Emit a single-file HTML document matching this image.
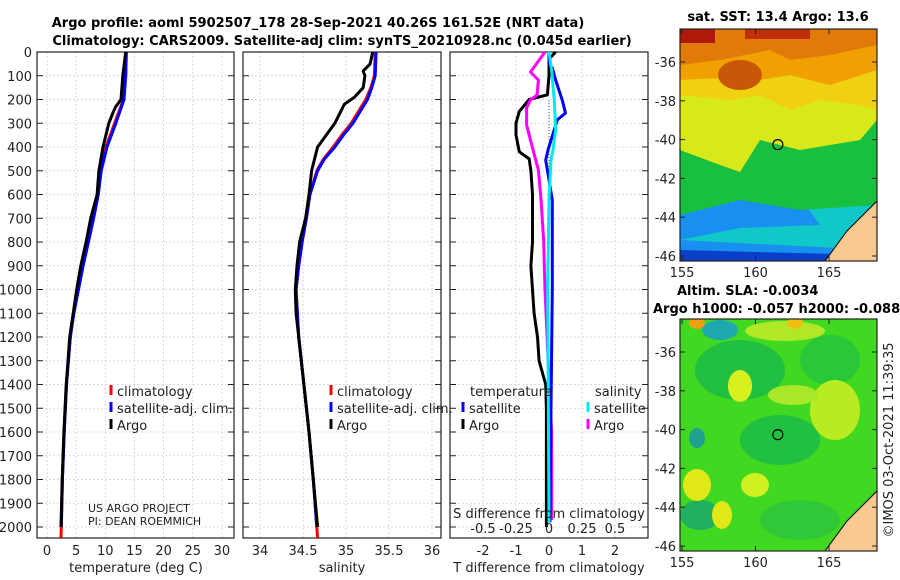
<!DOCTYPE html>
<html><head><meta charset="utf-8"><style>
body{margin:0;background:#fff;}
svg{display:block;font-family:"DejaVu Sans","Liberation Sans",sans-serif;}
.t{font-size:13px;fill:#222;}
.b{font-weight:bold;fill:#000;font-size:13px;}
</style></head><body>
<svg id="fig" width="900" height="580" viewBox="0 0 900 580">
<text class="b" x="318" y="27" text-anchor="middle">Argo profile: aoml 5902507_178 28-Sep-2021 40.26S 161.52E (NRT data)</text>
<text class="b" x="342" y="45" text-anchor="middle">Climatology: CARS2009. Satellite-adj clim: synTS_20210928.nc (0.045d earlier)</text>
<g id="p1"></g>
<g id="p2"></g>
<g id="p3"></g>
<g id="m1"></g>
<g id="m2"></g>
<text class="b" x="778" y="21" text-anchor="middle">sat. SST: 13.4 Argo: 13.6</text>
<text class="b" x="677" y="295">Altim. SLA: -0.0034</text>
<text class="b" x="653" y="313">Argo h1000: -0.057 h2000: -0.088</text>
<text class="t" transform="translate(893,440) rotate(-90)" text-anchor="middle">©IMOS 03-Oct-2021 11:39:35</text>
</svg>
<script>
// ---- data ----
const depthTicks=[0,100,200,300,400,500,600,700,800,900,1000,1100,1200,1300,1400,1500,1600,1700,1800,1900,2000];
const tTicks=[0,5,10,15,20,25,30];
const sTicks=[34,34.5,35,35.5,36];
const dtTicks=[-2,-1,0,1,2];
const dsTicks=[-0.5,-0.25,0,0.25,0.5];
const dsTickLabels=["-0.5","-0.25","0","0.25","0.5"];
const argoDepth=[0,100,200,230,250,300,400,500,600,700,800,900,1000,1100,1200,1300,1400,1600,1800,2000];
const argoTemp=[13.5,13.0,12.7,11.8,11.4,10.6,9.6,8.9,8.6,7.5,6.7,5.8,5.1,4.5,3.9,3.6,3.3,2.9,2.6,2.4];
const climDepth=[0,100,200,300,400,500,600,700,800,900,1000,1100,1200,1400,1600,1800,2000,2045];
const climTemp=[13.6,13.5,13.1,11.6,10.1,9.2,8.7,7.9,7.0,6.1,5.3,4.6,4.0,3.35,2.95,2.65,2.45,2.4];
const satTemp=[13.6,13.5,13.2,11.8,10.3,9.3,8.8,8.0,7.1,6.2,5.4,4.6,4.0,3.35,2.95,2.65,2.45,2.4];
const sDepth=[0,50,80,100,150,190,220,300,400,500,600,700,800,900,1000,1100,1200,1300,1400,1600,1800,2000];
const argoSal=[35.31,35.28,35.2,35.22,35.2,35.1,34.98,34.87,34.67,34.6,34.57,34.53,34.46,34.43,34.41,34.42,34.45,34.48,34.51,34.57,34.62,34.67];
const cDepth=[0,100,150,200,300,350,400,450,500,600,700,800,900,1000,1200,1400,1600,1800,2000,2045];
const climSal=[35.34,35.33,35.29,35.23,35.06,34.95,34.85,34.74,34.66,34.58,34.54,34.49,34.45,34.42,34.45,34.51,34.57,34.62,34.66,34.67];
const satSal=[35.35,35.34,35.3,35.25,35.08,34.97,34.87,34.75,34.67,34.58,34.54,34.49,34.45,34.42,34.45,34.51,34.57,34.62,34.66,34.67];
const dtArgoDepth=[0,30,100,180,200,250,300,350,420,450,500,600,800,900,1100,1200,1300,1400,1500,2000];
const dtArgo=[0.2,0,0,-0.05,-0.6,-0.9,-1.0,-1.0,-0.9,-0.6,-0.55,-0.5,-0.5,-0.55,-0.45,-0.35,-0.3,-0.1,-0.08,-0.08];
const dtSatDepth=[0,50,67,118,202,257,286,413,455,539,623,1000,1500,1980];
const dtSat=[0,0,0.1,0.2,0.4,0.5,0.25,-0.03,-0.1,0,0.1,0.1,0.06,0.03];
const dsArgoDepth=[0,84,118,181,202,236,307,371,497,623,800,1000,1380,1600,1970];
const dsArgo=[-0.03,-0.14,-0.08,-0.09,-0.14,-0.17,-0.17,-0.14,-0.08,-0.06,-0.04,-0.03,0,0.02,0.02];
const dsSatDepth=[0,76,202,328,413,455,623,1000,1980];
const dsSat=[0,0.02,0.04,0.05,0.03,0.015,0,-0.01,0];
const latTicks=[-36,-38,-40,-42,-44,-46];
const lonTicks=[155,160,165];
const floatLat=-40.26, floatLon=161.52;

const NS="http://www.w3.org/2000/svg";
function mk(p,tag,at){const e=document.createElementNS(NS,tag);for(const k in at)e.setAttribute(k,at[k]);p.appendChild(e);return e;}
const Y=d=>52+d*0.2375;
const PB=538;
function frame(g,x0,x1,xs,xt,gridX){
  depthTicks.forEach(d=>{const l=mk(g,'line',{x1:x0,x2:x1,y1:Y(d),y2:Y(d),stroke:'#c8d0ee','stroke-dasharray':'2,2','stroke-width':0.8});
  
  mk(g,'line',{x1:x0,x2:x0+6,y1:Y(d),y2:Y(d),stroke:'#222'});mk(g,'line',{x1:x1-6,x2:x1,y1:Y(d),y2:Y(d),stroke:'#222'});});
  gridX.forEach(v=>{const x=xs(v);mk(g,'line',{x1:x,x2:x,y1:52,y2:PB,stroke:'#c8d0ee','stroke-dasharray':'2,2','stroke-width':0.8});});
  const r=mk(g,'rect',{x:x0,y:52,width:x1-x0,height:PB-52,fill:'none',stroke:'#222','stroke-width':1.2});
  
}
function line(g,xs,vals,deps,col,w,name){
  const pts=vals.map((v,i)=>xs(v).toFixed(1)+','+Y(deps[i]).toFixed(1)).join(' ');
  const p=mk(g,'polyline',{points:pts,fill:'none',stroke:col,'stroke-width':w,'stroke-linejoin':'round'});
  
}
function txt(g,x,y,s,anchor,name,cls){const t=mk(g,'text',{x:x,y:y,'text-anchor':anchor||'start',class:cls||'t'});t.textContent=s;
  return t;}
function legend(g,x,y,col,label,name){mk(g,'rect',{x:x-1.5,y:y-11,width:3,height:10,fill:col});txt(g,x+6,y,label,'start',name);}

const g1=document.getElementById('p1');
const xT=v=>47+v*5.83;
frame(g1,37,234,xT,tTicks,tTicks);
depthTicks.forEach(d=>txt(g1,32,Y(d)+5,String(d),'end','depth-tick-label'));
tTicks.forEach(v=>txt(g1,xT(v),555,String(v),'middle','temperature-tick-label'));
txt(g1,136,572,'temperature (deg C)','middle','temperature-axis-title');
line(g1,xT,climTemp,climDepth,'#ff0000',3,'temperature-climatology');
line(g1,xT,satTemp.slice(0,17),climDepth.slice(0,17),'#0000ff',3,'temperature-satellite-clim');
line(g1,xT,argoTemp,argoDepth,'#000',3,'temperature-argo');
legend(g1,111,396,'#ff0000','climatology','legend-climatology');
legend(g1,111,413,'#0000ff','satellite-adj. clim.','legend-satellite');
legend(g1,111,430,'#000','Argo','legend-argo');
txt(g1,88,512,'US ARGO PROJECT','start','project-label').setAttribute('style','font-size:11px');
txt(g1,88,525,'PI: DEAN ROEMMICH','start','pi-label').setAttribute('style','font-size:11px');

const g2=document.getElementById('p2');
const xS=v=>260+(v-34)*86;
frame(g2,243,441,xS,sTicks,sTicks);
sTicks.forEach(v=>txt(g2,xS(v),555,String(v),'middle','salinity-tick-label'));
txt(g2,342,572,'salinity','middle','salinity-axis-title');
line(g2,xS,climSal,cDepth,'#ff0000',3,'salinity-climatology');
line(g2,xS,satSal.slice(0,19),cDepth.slice(0,19),'#0000ff',3,'salinity-satellite-clim');
line(g2,xS,argoSal,sDepth,'#000',3,'salinity-argo');
legend(g2,331,396,'#ff0000','climatology','legend-climatology');
legend(g2,331,413,'#0000ff','satellite-adj. clim.','legend-satellite');
legend(g2,331,430,'#000','Argo','legend-argo');

const g3=document.getElementById('p3');
const xDT=v=>549+v*33;
const xDS=v=>549+v*132;
frame(g3,450,648,xDT,dtTicks,dtTicks);
mk(g3,'line',{x1:549,x2:549,y1:100,y2:522,stroke:'#555','stroke-dasharray':'1,2','stroke-width':1});
line(g3,xDT,dtArgo,dtArgoDepth,'#000',3,'temp-diff-argo');
line(g3,xDS,dsArgo,dsArgoDepth,'#ff00ff',3,'sal-diff-argo');
line(g3,xDT,dtSat,dtSatDepth,'#0000ff',3,'temp-diff-satellite');
line(g3,xDS,dsSat,dsSatDepth,'#00e8f0',3,'sal-diff-satellite');
dtTicks.forEach(v=>txt(g3,xDT(v),555,String(v),'middle','t-diff-tick-label'));
dsTicks.forEach((v,i)=>txt(g3,xDS(v),533,dsTickLabels[i],'middle','s-diff-tick-label'));
txt(g3,549,572,'T difference from climatology','middle','t-diff-axis-title');
txt(g3,549,518,'S difference from climatology','middle','s-diff-axis-title');
txt(g3,470,396,'temperature','start','legend-temperature-heading');
txt(g3,595,396,'salinity','start','legend-salinity-heading');
legend(g3,463,413,'#0000ff','satellite','legend-temp-satellite');
legend(g3,463,430,'#000','Argo','legend-temp-argo');
legend(g3,588,413,'#00e8f0','satellite','legend-sal-satellite');
legend(g3,588,430,'#ff00ff','Argo','legend-sal-argo');

function mapAxes(g,top,bands){
  const L=680,R=877,H=232;
  const lonX=v=>682+(v-155)*14.7;
  const latY=v=>top+33+(-36-v)*19.4;
  const cp='clip'+top;
  const c=mk(g,'clipPath',{id:cp});mk(c,'rect',{x:L,y:top,width:R-L,height:H});
  const inner=mk(g,'g',{'clip-path':'url(#'+cp+')'});
  bands.forEach(b=>{const e=mk(inner,b[0],b[1]);});
  mk(inner,'polygon',{points:(R)+','+(top+H-60)+' '+R+','+(top+H)+' '+(R-52)+','+(top+H)+' '+(R-30)+','+(top+H-30),fill:'#f9c98f',stroke:'#000','stroke-width':1});
  const cir=mk(g,'circle',{cx:lonX(floatLon),cy:latY(floatLat),r:5,fill:'none',stroke:'#000','stroke-width':1.2});
  
  mk(g,'rect',{x:L,y:top,width:R-L,height:H,fill:'none',stroke:'#222','stroke-width':1.2});
  latTicks.forEach(v=>{mk(g,'line',{x1:L,x2:L+5,y1:latY(v),y2:latY(v),stroke:'#222'});mk(g,'line',{x1:R-5,x2:R,y1:latY(v),y2:latY(v),stroke:'#222'});
    txt(g,676,latY(v)+5,String(v),'end','lat-tick-label');});
  lonTicks.forEach(v=>{mk(g,'line',{x1:lonX(v),x2:lonX(v),y1:top+H-5,y2:top+H,stroke:'#222'});mk(g,'line',{x1:lonX(v),x2:lonX(v),y1:top,y2:top+5,stroke:'#222'});
    txt(g,lonX(v),top+H+16,String(v),'middle','lon-tick-label');});
}
mapAxes(document.getElementById('m1'),29,[
 ['rect',{x:680,y:29,width:197,height:232,fill:'#0a40c8'}],
 ['polygon',{points:'680,29 877,29 877,255 680,250',fill:'#1890f0'}],
 ['polygon',{points:'680,29 877,29 877,250 680,240 740,228 820,225',fill:'#10c8c8'}],
 ['polygon',{points:'680,29 877,29 877,205 800,210 740,200 680,215',fill:'#18c040'}],
 ['polygon',{points:'680,29 877,29 877,120 860,140 800,150 760,140 740,172 720,165 680,150',fill:'#d8e818'}],
 ['polygon',{points:'680,29 877,29 877,110 860,105 820,100 790,110 760,95 730,100 680,95',fill:'#f0d010'}],
 ['polygon',{points:'680,29 877,29 877,70 830,85 790,75 760,80 720,78 680,80',fill:'#f0a000'}],
 ['polygon',{points:'680,29 877,29 877,45 830,55 790,60 770,50 720,60 680,65',fill:'#e07a08'}],
 ['ellipse',{cx:740,cy:75,rx:22,ry:15,fill:'#c85808'}],
 ['rect',{x:680,y:29,width:35,height:14,fill:'#b01808'}],
 ['rect',{x:745,y:29,width:65,height:10,fill:'#c03008'}]
]);
mapAxes(document.getElementById('m2'),319,[
 ['rect',{x:680,y:319,width:197,height:232,fill:'#40d820'}],
 ['ellipse',{cx:740,cy:370,rx:45,ry:30,fill:'#22c040'}],
 ['ellipse',{cx:830,cy:360,rx:30,ry:25,fill:'#28c838'}],
 ['ellipse',{cx:780,cy:440,rx:40,ry:25,fill:'#22c040'}],
 ['ellipse',{cx:700,cy:515,rx:20,ry:15,fill:'#20b060'}],
 ['ellipse',{cx:800,cy:520,rx:40,ry:20,fill:'#30c838'}],
 ['ellipse',{cx:740,cy:386,rx:12,ry:16,fill:'#d8f020'}],
 ['ellipse',{cx:697,cy:485,rx:14,ry:16,fill:'#e0e818'}],
 ['ellipse',{cx:755,cy:485,rx:14,ry:12,fill:'#d0f020'}],
 ['ellipse',{cx:722,cy:515,rx:10,ry:14,fill:'#e0e818'}],
 ['ellipse',{cx:835,cy:410,rx:25,ry:30,fill:'#b8ec20'}],
 ['ellipse',{cx:793,cy:395,rx:25,ry:10,fill:'#a8e828'}],
 ['ellipse',{cx:785,cy:331,rx:40,ry:10,fill:'#b0e828'}],
 ['ellipse',{cx:720,cy:330,rx:18,ry:10,fill:'#20a8b0'}],
 ['ellipse',{cx:697,cy:323,rx:8,ry:6,fill:'#f0a010'}],
 ['ellipse',{cx:795,cy:323,rx:8,ry:6,fill:'#f0c010'}],
 ['ellipse',{cx:697,cy:438,rx:8,ry:10,fill:'#20a090'}]
]);
</script>
</body></html>
